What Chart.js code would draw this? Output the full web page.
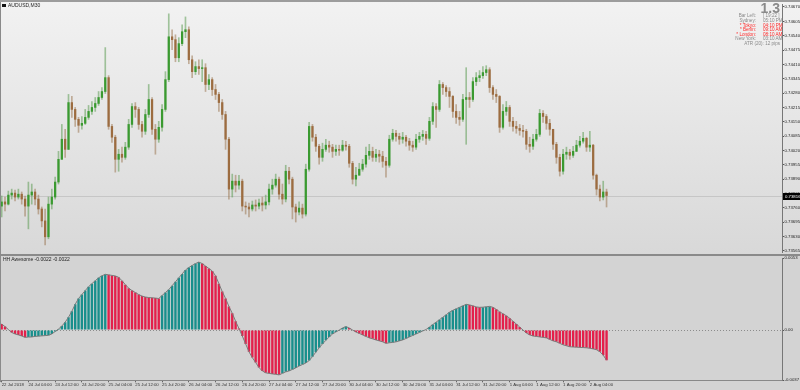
<!DOCTYPE html>
<html>
<head>
<meta charset="utf-8">
<script src="https://cdn.jsdelivr.net/npm/chart.js@4/dist/chart.umd.min.js"></script>
<style>
html,body{margin:0;padding:0;width:800px;height:390px;overflow:hidden;background:#d3d3d3;font-family:"Liberation Sans",Arial,sans-serif;}
#wrap{position:relative;width:800px;height:390px;}
canvas{position:absolute;left:0;}
#cTop{top:0;z-index:1;}
#cBot{top:252px;z-index:2;}
.ov{position:absolute;z-index:5;white-space:nowrap;line-height:1;}
.bar{position:absolute;z-index:4;}
.lbl{position:absolute;z-index:5;font-size:4.6px;line-height:5px;white-space:nowrap;color:#8a8a8a;}
.r{text-align:right;}
.red{color:#ff2a2a;}
</style>
</head>
<body>
<div id="wrap">
  <canvas id="cTop" width="800" height="256"></canvas>
  <canvas id="cBot" width="800" height="138"></canvas>
  <div class="bar" style="left:0;top:0;width:800px;height:2px;background:#9c9c9c;"></div>
  <div class="bar" style="left:0;top:2px;width:1px;height:380px;background:#8a8a8a;"></div>
  <div class="bar" style="left:0;top:254px;width:800px;height:2px;background:#8a8a8a;"></div>

  <div class="bar" style="left:2px;top:4px;width:4px;height:3px;background:#111;"></div>
  <div class="ov" style="left:8px;top:3px;font-size:5px;color:#222;">AUDUSD,M30</div>
  <div class="ov" style="left:3px;top:257px;font-size:5px;color:#222;">HH Awesome -0.0022 -0.0022</div>

  <div class="ov" style="right:20px;top:1px;font-size:14px;font-weight:bold;color:#8a8a8a;">1.3</div>
  <div class="lbl r" style="right:44px;top:13px;">Bar Left:</div><div class="lbl" style="left:763px;top:13px;">[ 19:22 ]</div>
  <div class="lbl r" style="right:44px;top:18px;">Sydney:</div><div class="lbl" style="left:763px;top:18px;">05:10 PM</div>
  <div class="lbl r red" style="right:44px;top:22.5px;">* Tokyo:</div><div class="lbl red" style="left:763px;top:22.5px;">04:10 PM</div>
  <div class="lbl r red" style="right:44px;top:27px;">* Berlin:</div><div class="lbl red" style="left:763px;top:27px;">09:10 AM</div>
  <div class="lbl r red" style="right:44px;top:31.5px;">* London:</div><div class="lbl red" style="left:763px;top:31.5px;">08:10 AM</div>
  <div class="lbl r" style="right:44px;top:36px;">New York:</div><div class="lbl" style="left:763px;top:36px;">03:10 AM</div>
  <div class="lbl r" style="right:20px;top:41px;">ATR (20): 12 pips</div>
</div>
<script>
// ---------- data ----------
const timeLabels = ["22 Jul 2018","24 Jul 04:00","24 Jul 12:00","24 Jul 20:00","25 Jul 04:00","25 Jul 12:00","25 Jul 20:00","26 Jul 04:00","26 Jul 12:00","26 Jul 20:00","27 Jul 04:00","27 Jul 12:00","27 Jul 20:00","30 Jul 04:00","30 Jul 12:00","30 Jul 20:00","31 Jul 04:00","31 Jul 12:00","31 Jul 20:00","1 Aug 04:00","1 Aug 12:00","1 Aug 20:00","2 Aug 04:00"];
const BARS_PER_LABEL = 8;
const SLOTS = 234;

const priceTicks = [0.74670,0.74605,0.74540,0.74475,0.74410,0.74345,0.74280,0.74215,0.74150,0.74085,0.74020,0.73955,0.73890,0.73825,0.73760,0.73695,0.73630,0.73565];
const aoTicks = [0.0053, 0, -0.0037];
const currentPrice = 0.73816;
const firstOpen = 0.73768;

const closes = [0.73787,0.73777,0.73818,0.73827,0.73809,0.73822,0.73800,0.73768,0.73818,0.73832,
0.73800,0.73755,0.73701,0.73629,0.73777,0.73809,0.73877,0.73980,0.74071,0.74025,
0.74237,0.74206,0.74161,0.74134,0.74143,0.74170,0.74197,0.74215,0.74233,0.74260,
0.74287,0.74350,0.74129,0.74080,0.73980,0.74003,0.73989,0.74035,0.74138,0.74219,
0.74206,0.74138,0.74107,0.74183,0.74251,0.74116,0.74071,0.74125,0.74206,0.74341,
0.74535,0.74522,0.74440,0.74504,0.74558,0.74567,0.74431,0.74377,0.74400,0.74391,
0.74395,0.74319,0.74341,0.74296,0.74274,0.74237,0.74183,0.74071,0.73845,0.73881,
0.73863,0.73881,0.73768,0.73764,0.73755,0.73773,0.73768,0.73782,0.73773,0.73787,
0.73845,0.73863,0.73890,0.73822,0.73800,0.73926,0.73890,0.73764,0.73741,0.73759,
0.73732,0.73935,0.74129,0.74080,0.74039,0.73989,0.74025,0.74044,0.74035,0.74016,
0.74025,0.74021,0.74044,0.74039,0.73962,0.73890,0.73908,0.73935,0.73958,0.73998,
0.74016,0.73989,0.74003,0.73994,0.73971,0.73953,0.74071,0.74098,0.74084,0.74071,
0.74080,0.74062,0.74044,0.74035,0.74071,0.74084,0.74093,0.74075,0.74152,0.74219,
0.74206,0.74319,0.74305,0.74287,0.74265,0.74197,0.74170,0.74161,0.74251,0.74260,
0.74251,0.74332,0.74350,0.74359,0.74373,0.74386,0.74305,0.74274,0.74265,0.74125,
0.74197,0.74215,0.74152,0.74129,0.74120,0.74111,0.74107,0.74048,0.74039,0.74071,
0.74093,0.74188,0.74174,0.74143,0.74116,0.74048,0.73989,0.73926,0.74003,0.74012,
0.73998,0.74016,0.74044,0.74062,0.74075,0.74035,0.74044,0.73908,0.73845,0.73809,
0.73832,0.73816];

const highs = [0.73814,0.73809,0.73836,0.73845,0.73841,0.73845,0.73832,0.73814,0.73877,0.73868,
0.73845,0.73818,0.73764,0.73755,0.73809,0.73845,0.73899,0.74016,0.74138,0.74116,
0.74274,0.74265,0.74215,0.74170,0.74174,0.74206,0.74224,0.74242,0.74260,0.74287,
0.74305,0.74486,0.74359,0.74138,0.74089,0.74025,0.74035,0.74057,0.74161,0.74233,
0.74237,0.74215,0.74152,0.74206,0.74319,0.74260,0.74138,0.74152,0.74228,0.74377,
0.74639,0.74567,0.74544,0.74531,0.74589,0.74625,0.74580,0.74449,0.74422,0.74431,
0.74431,0.74413,0.74364,0.74350,0.74319,0.74283,0.74251,0.74197,0.74080,0.73913,
0.73908,0.73908,0.73890,0.73787,0.73782,0.73791,0.73796,0.73800,0.73809,0.73818,
0.73868,0.73890,0.73913,0.73899,0.73868,0.73953,0.73944,0.73899,0.73777,0.73787,
0.73777,0.73958,0.74147,0.74138,0.74093,0.74048,0.74053,0.74071,0.74062,0.74048,
0.74044,0.74044,0.74066,0.74062,0.74048,0.73971,0.73944,0.73962,0.73980,0.74035,
0.74048,0.74035,0.74025,0.74021,0.74016,0.73989,0.74089,0.74116,0.74111,0.74098,
0.74102,0.74089,0.74075,0.74062,0.74093,0.74102,0.74111,0.74107,0.74170,0.74237,
0.74233,0.74337,0.74328,0.74314,0.74305,0.74269,0.74228,0.74197,0.74274,0.74395,
0.74283,0.74350,0.74373,0.74382,0.74400,0.74404,0.74395,0.74314,0.74296,0.74269,
0.74228,0.74242,0.74224,0.74170,0.74152,0.74138,0.74134,0.74116,0.74080,0.74093,
0.74116,0.74206,0.74201,0.74183,0.74161,0.74116,0.74057,0.74003,0.74025,0.74035,
0.74025,0.74039,0.74066,0.74084,0.74102,0.74080,0.74107,0.74048,0.73913,0.73863,
0.73881,0.73845];

const lows = [0.73719,0.73746,0.73773,0.73800,0.73791,0.73800,0.73777,0.73723,0.73665,0.73777,
0.73773,0.73732,0.73674,0.73592,0.73620,0.73755,0.73800,0.73868,0.73980,0.73989,
0.74025,0.74170,0.74129,0.74102,0.74116,0.74138,0.74161,0.74183,0.74197,0.74224,
0.74251,0.74278,0.74116,0.74057,0.73922,0.73926,0.73967,0.73980,0.74025,0.74125,
0.74170,0.74116,0.74080,0.74093,0.74170,0.74093,0.74003,0.74057,0.74107,0.74197,
0.74332,0.74477,0.74422,0.74422,0.74495,0.74531,0.74413,0.74350,0.74364,0.74364,
0.74332,0.74287,0.74296,0.74269,0.74251,0.74197,0.74161,0.74025,0.73800,0.73809,
0.73832,0.73845,0.73746,0.73732,0.73719,0.73746,0.73746,0.73755,0.73746,0.73755,
0.73773,0.73822,0.73854,0.73800,0.73777,0.73787,0.73868,0.73710,0.73696,0.73728,
0.73714,0.73723,0.73926,0.74062,0.74016,0.73958,0.73971,0.74016,0.74012,0.73989,
0.73998,0.73998,0.74016,0.74021,0.73944,0.73868,0.73859,0.73908,0.73926,0.73944,
0.73980,0.73971,0.73971,0.73967,0.73944,0.73899,0.73944,0.74062,0.74062,0.74048,
0.74053,0.74039,0.74021,0.74016,0.74025,0.74057,0.74066,0.74048,0.74066,0.74138,
0.74125,0.74197,0.74274,0.74265,0.74215,0.74170,0.74143,0.74134,0.74152,0.74048,
0.74215,0.74242,0.74314,0.74332,0.74346,0.74359,0.74283,0.74251,0.74237,0.74102,
0.74116,0.74179,0.74129,0.74107,0.74098,0.74089,0.74080,0.74025,0.74012,0.74025,
0.74062,0.74084,0.74147,0.74116,0.74089,0.74025,0.73962,0.73904,0.73913,0.73980,
0.73980,0.73989,0.74016,0.74035,0.74053,0.74016,0.74016,0.73890,0.73818,0.73791,
0.73796,0.73764];

const aoValues = [0.00044,0.00025,0.00004,-0.00018,-0.00029,-0.00036,-0.00044,-0.00054,-0.00052,-0.00051,
-0.00047,-0.00045,-0.00043,-0.00041,-0.00039,-0.00029,-0.00011,0.00007,0.00029,0.00058,
0.00094,0.00138,0.00189,0.00232,0.00261,0.00290,0.00319,0.00341,0.00363,0.00384,
0.00399,0.00410,0.00406,0.00402,0.00398,0.00388,0.00363,0.00334,0.00308,0.00290,
0.00276,0.00261,0.00250,0.00243,0.00239,0.00237,0.00235,0.00232,0.00254,0.00276,
0.00297,0.00326,0.00355,0.00384,0.00413,0.00442,0.00460,0.00475,0.00489,0.00500,
0.00489,0.00471,0.00453,0.00435,0.00399,0.00341,0.00283,0.00232,0.00174,0.00123,
0.00065,0.00011,-0.00044,-0.00102,-0.00160,-0.00203,-0.00239,-0.00276,-0.00301,-0.00315,
-0.00319,-0.00323,-0.00326,-0.00330,-0.00319,-0.00308,-0.00301,-0.00290,-0.00279,-0.00265,
-0.00254,-0.00243,-0.00225,-0.00196,-0.00163,-0.00131,-0.00102,-0.00076,-0.00051,-0.00029,
-0.00015,0.00000,0.00015,0.00025,0.00015,0.00000,-0.00015,-0.00025,-0.00036,-0.00047,
-0.00058,-0.00065,-0.00073,-0.00080,-0.00087,-0.00098,-0.00094,-0.00091,-0.00087,-0.00080,
-0.00073,-0.00062,-0.00051,-0.00040,-0.00029,-0.00018,-0.00007,0.00004,0.00022,0.00040,
0.00058,0.00076,0.00094,0.00112,0.00131,0.00145,0.00156,0.00167,0.00178,0.00189,
0.00185,0.00178,0.00170,0.00167,0.00168,0.00171,0.00174,0.00167,0.00152,0.00134,
0.00120,0.00105,0.00087,0.00065,0.00044,0.00022,0.00000,-0.00022,-0.00036,-0.00044,
-0.00047,-0.00051,-0.00054,-0.00058,-0.00069,-0.00080,-0.00087,-0.00098,-0.00109,-0.00116,
-0.00123,-0.00125,-0.00126,-0.00128,-0.00129,-0.00131,-0.00134,-0.00139,-0.00145,-0.00160,
-0.00185,-0.00222];

// ---------- derived ----------
const categories = Array.from({length: SLOTS}, (_, i) =>
  (i % BARS_PER_LABEL === 0 && i / BARS_PER_LABEL < timeLabels.length) ? timeLabels[i / BARS_PER_LABEL] : '');
const opens = [firstOpen].concat(closes.slice(0, -1));
const isBull = closes.map((c, i) => c >= opens[i]);
const aoColors = aoValues.map((v, i) => (i > 0 && v >= aoValues[i - 1]) ? '#188f8c' : '#e3204b');

const FONT = '"Liberation Sans", Arial, sans-serif';
const AXIS_FONT = { size: 4.3, family: FONT };

// ---------- top chart (price) ----------
const topPlugin = {
  id: 'topDeco',
  beforeDraw(chart) {
    const ctx = chart.ctx;
    const g = ctx.createLinearGradient(0, 0, 0, chart.height);
    g.addColorStop(0, '#f2f2f2');
    g.addColorStop(1, '#d8d8d8');
    ctx.save();
    ctx.fillStyle = g;
    ctx.fillRect(0, 0, chart.width, chart.height);
    const ca = chart.chartArea;
    const y = chart.scales.y.getPixelForValue(currentPrice);
    ctx.strokeStyle = '#c6c6c6';
    ctx.lineWidth = 1;
    ctx.beginPath();
    ctx.moveTo(ca.left, Math.round(y) + 0.5);
    ctx.lineTo(ca.right, Math.round(y) + 0.5);
    ctx.stroke();
    ctx.restore();
  },
  afterDraw(chart) {
    const ctx = chart.ctx;
    const ca = chart.chartArea;
    const y = chart.scales.y.getPixelForValue(currentPrice);
    ctx.save();
    ctx.fillStyle = '#000';
    ctx.fillRect(ca.right + 1, Math.round(y) - 3, chart.width - ca.right - 1, 7);
    ctx.fillStyle = '#fff';
    ctx.font = '4.3px ' + FONT;
    ctx.textBaseline = 'middle';
    ctx.fillText(currentPrice.toFixed(5), ca.right + 3, Math.round(y) + 0.5);
    ctx.restore();
  }
};

new Chart(document.getElementById('cTop'), {
  type: 'bar',
  data: {
    labels: categories,
    datasets: [
      {
        data: lows.map((l, i) => [l, highs[i]]),
        backgroundColor: isBull.map(b => b ? 'rgba(80,150,70,0.5)' : 'rgba(150,110,70,0.5)'),
        barThickness: 1, grouped: false, order: 2, borderWidth: 0
      },
      {
        data: opens.map((o, i) => [o, closes[i]]),
        backgroundColor: isBull.map(b => b ? '#3a9a30' : '#9c6c40'),
        barThickness: 1.6, grouped: false, order: 1, borderWidth: 0
      }
    ]
  },
  options: {
    responsive: false, animation: false, events: [],
    layout: { padding: { top: 4, bottom: 2, left: 0, right: 0 } },
    plugins: { legend: { display: false }, tooltip: { enabled: false } },
    scales: {
      x: { display: false },
      y: {
        position: 'right', min: 0.73556, max: 0.746835,
        afterBuildTicks: s => { s.ticks = priceTicks.map(v => ({ value: v })); },
        afterFit: s => { s.width = 18; },
        ticks: { font: AXIS_FONT, color: '#222', padding: 0.5, callback: v => Number(v).toFixed(5) },
        grid: { drawOnChartArea: false, tickLength: 2, tickColor: '#555' },
        border: { display: true, color: '#777' }
      }
    }
  },
  plugins: [topPlugin]
});

// ---------- bottom chart (Awesome oscillator) ----------
const botPlugin = {
  id: 'botDeco',
  beforeDatasetsDraw(chart) {
    const ctx = chart.ctx;
    const ca = chart.chartArea;
    const y = Math.round(chart.scales.y.getPixelForValue(0)) + 0.5;
    ctx.save();
    ctx.strokeStyle = '#8c8c8c';
    ctx.lineWidth = 1;
    ctx.setLineDash([1, 2]);
    ctx.beginPath();
    ctx.moveTo(ca.left, y);
    ctx.lineTo(ca.right, y);
    ctx.stroke();
    ctx.restore();
  }
};

new Chart(document.getElementById('cBot'), {
  type: 'bar',
  data: {
    labels: categories,
    datasets: [
      {
        type: 'line', data: aoValues, borderColor: '#7a7a7a', borderWidth: 1,
        pointRadius: 0, tension: 0, fill: false, order: 0
      },
      {
        data: aoValues, backgroundColor: aoColors,
        barPercentage: 0.72, categoryPercentage: 1, borderWidth: 0, order: 1
      }
    ]
  },
  options: {
    responsive: false, animation: false, events: [],
    layout: { padding: { top: 6, bottom: 0, left: 0, right: 0 } },
    plugins: { legend: { display: false }, tooltip: { enabled: false } },
    scales: {
      x: {
        afterBuildTicks: s => { s.ticks = timeLabels.map((_, k) => ({ value: k * BARS_PER_LABEL })); },
        afterFit: s => { s.height = 9.7; },
        ticks: {
          autoSkip: false, maxRotation: 0, minRotation: 0, align: 'start', padding: 0,
          font: { size: 4.3, family: FONT }, color: '#333',
          callback: v => categories[v]
        },
        grid: { drawOnChartArea: false, offset: false, tickLength: 2, tickColor: '#666' },
        border: { display: true, color: '#888' }
      },
      y: {
        position: 'right', min: -0.0037, max: 0.0053,
        afterBuildTicks: s => { s.ticks = aoTicks.map(v => ({ value: v })); },
        afterFit: s => { s.width = 18; },
        ticks: { font: AXIS_FONT, color: '#222', padding: 0.5,
          callback: v => v === 0 ? '0.00' : Number(v).toFixed(4) },
        grid: { drawOnChartArea: false, tickLength: 2, tickColor: '#555' },
        border: { display: true, color: '#777' }
      }
    }
  },
  plugins: [botPlugin]
});
</script>
</body>
</html>
